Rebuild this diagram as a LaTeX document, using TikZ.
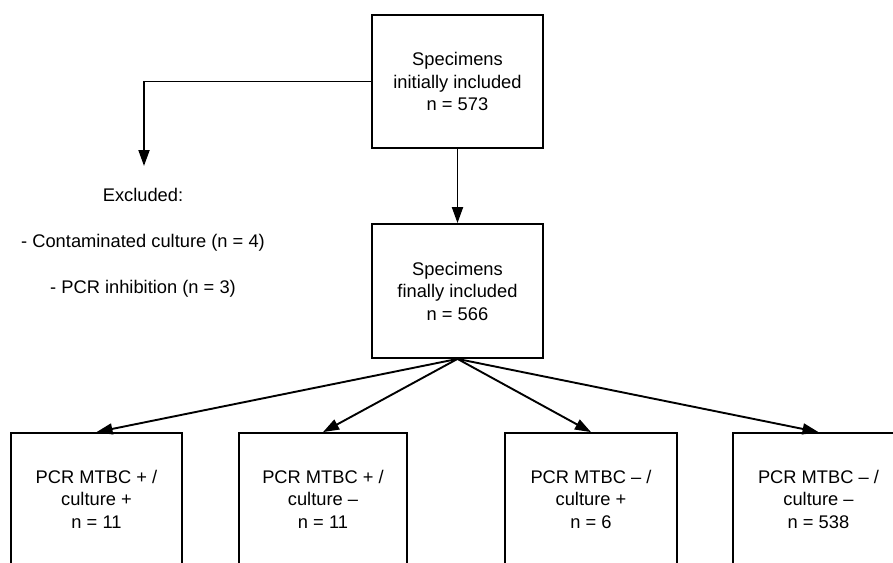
\documentclass[tikz,border=0pt]{standalone}
\usepackage{fontspec}
\setmainfont{Liberation Sans}
\usetikzlibrary{
    arrows.meta,
    positioning
}

\begin{document}
\begin{tikzpicture}[x=1pt, y=-1pt,
    stage/.style={draw, line width=1.8pt, minimum width=171pt, align=center, font=\fontsize{18.3}{22.5}\selectfont},
    note/.style={font=\fontsize{18.3}{22.5}\selectfont},
    link/.style={line width=1.9pt},
    >={Triangle[length=16pt, width=11pt]}]
                        \clip (0, 0) rectangle (893, 562);
                        \node[stage, minimum height=133pt] (initial) at (457.5, 81.5) {Specimens\\initially included\\n = 573};
                        \node[stage, minimum height=134pt] (final) at (457.5, 291) {Specimens\\finally included\\n = 566};
                        \node[stage, minimum height=132pt] (pospos) at (96.5, 499) {PCR MTBC + /\\culture +\\n = 11};
                        \node[stage, minimum width=168pt, minimum height=132pt] (posneg) at (323, 499) {PCR MTBC + /\\culture –\\n = 11};
                        \node[stage, minimum width=172pt, minimum height=132pt] (negpos) at (591, 499) {PCR MTBC – /\\culture +\\n = 6};
                        \node[stage, minimum height=132pt] (negneg) at (818.5, 499) {PCR MTBC – /\\culture –\\n = 538};
                        \coordinate (excluded) at (144, 166);
                        \node[note] (excltitle) at (143, 195) {Excluded:};
                        \node[note] (exclcont) at (143, 243) {- Contaminated culture (n = 4)};
                        \node[note] (exclpcr) at (143, 289) {- PCR inhibition (n = 3)};
                        \draw[link, ->] (initial) -- (final);
                        \draw[link, ->] (initial.west) -| (excluded);
                        \draw[link]
                        (final.south) edge[->] (pospos.north)
                        (final.south) edge[->] (posneg.north)
                        (final.south) edge[->] (negpos.north)
                        (final.south) edge[->] (negneg.north);
                    \end{tikzpicture}
\end{document}
